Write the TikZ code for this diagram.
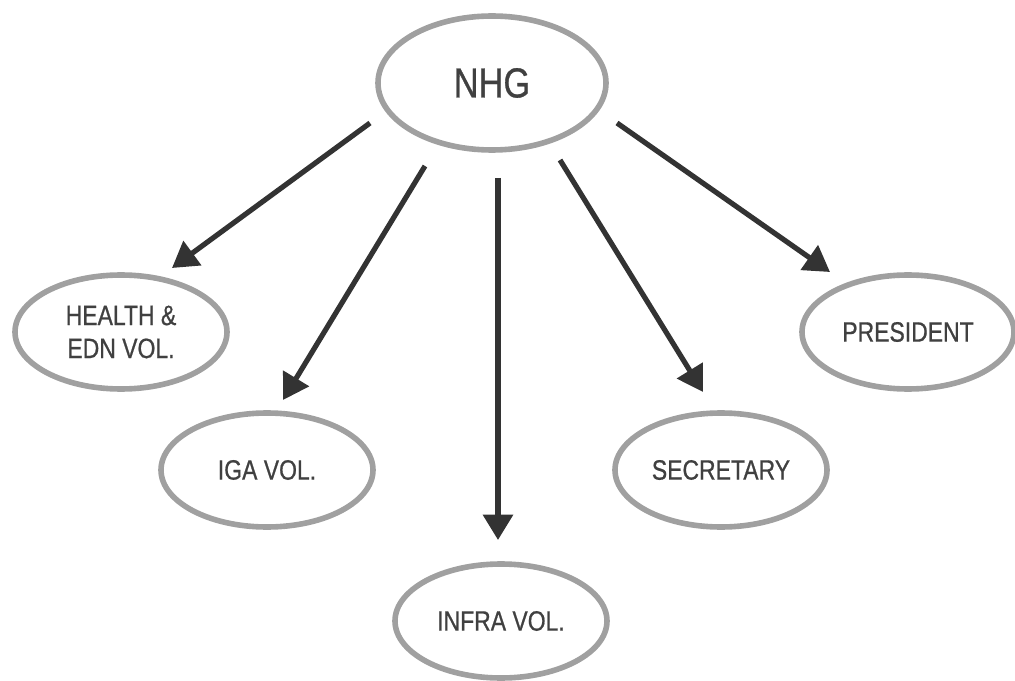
\documentclass[tikz,border=0pt]{standalone}
\usepackage{fontspec}
\setmainfont[FakeStretch=0.82,FakeBold=0.7]{Liberation Sans}
\usetikzlibrary{shapes.geometric,arrows.meta}
\definecolor{ringgray}{HTML}{A0A0A0}
\definecolor{textgray}{HTML}{404040}
\definecolor{arrowgray}{HTML}{333333}
\begin{document}
\begin{tikzpicture}[x=0.75pt,y=-0.75pt,
  oval/.style={ellipse,draw=ringgray,line width=4.2pt,inner sep=0pt,
    minimum width=159pt,minimum height=85.5pt,text=textgray,
    font=\fontsize{21}{24.75}\selectfont,align=center},
  bigoval/.style={oval,minimum width=171pt,minimum height=100.5pt,
    font=\fontsize{31.5}{36}\selectfont},
  link/.style={draw=arrowgray,line width=3.9pt,
    -{Triangle[length=19pt,width=22pt]}}]
\useasboundingbox (0,0) rectangle (1015,681);
\node[bigoval] (nhg) at (492,83) {NHG};
\node[oval] (health) at (121,332) {HEALTH \&\\EDN VOL.};
\node[oval] (iga) at (267,470) {IGA VOL.};
\node[oval] (infra) at (501,621) {INFRA VOL.};
\node[oval] (sec) at (721,470) {SECRETARY};
\node[oval] (pres) at (908,332) {PRESIDENT};
\coordinate (s1) at (370,123); \coordinate (e1) at (172,268);
\coordinate (s2) at (425,166); \coordinate (e2) at (283,400);
\coordinate (s3) at (498,178); \coordinate (e3) at (498,540);
\coordinate (s4) at (560,160); \coordinate (e4) at (703,392);
\coordinate (s5) at (617,123); \coordinate (e5) at (830,272);
\draw[link] (s1) -- (e1);
\draw[link] (s2) -- (e2);
\draw[link] (s3) -- (e3);
\draw[link] (s4) -- (e4);
\draw[link] (s5) -- (e5);
\end{tikzpicture}
\end{document}
